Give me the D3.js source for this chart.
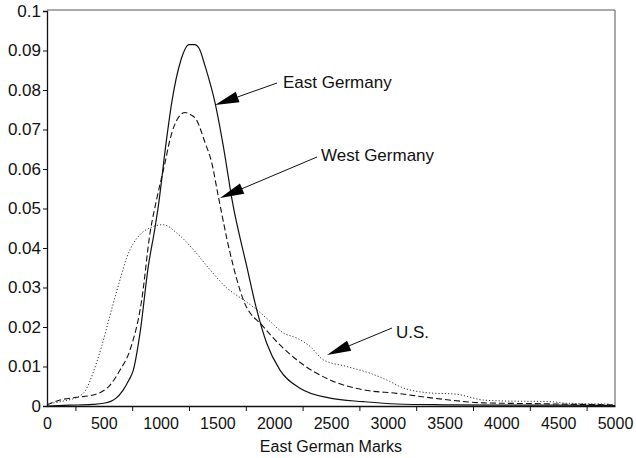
<!DOCTYPE html>
<html>
<head>
<meta charset="utf-8">
<script src="https://cdn.jsdelivr.net/npm/d3@7"></script>
<style>
  body { margin: 0; background: #fff; }
  svg { display: block; font-family: "Liberation Sans", Arial, sans-serif; }
  .axis text { font-size: 16px; fill: #111; }
  .axis path, .axis line { stroke: #111; }
</style>
</head>
<body>
<svg id="chart" width="636" height="458"></svg>
<script>
// Income densities (East German Marks)
const eastX = [0, 200, 400, 500, 555, 600, 672, 720, 760, 819, 892, 950, 980, 1050, 1098, 1177, 1250, 1300, 1340, 1391, 1479, 1552, 1634, 1758, 1846, 1934, 2051, 2227, 2491, 2784, 3078, 3500, 4000, 4500, 5000]
const eastY = [0, 0.0002, 0.0004, 0.0007, 0.0011, 0.0018, 0.0041, 0.0065, 0.0091, 0.0185, 0.0354, 0.045, 0.0506, 0.067, 0.0768, 0.0874, 0.0915, 0.0915, 0.0905, 0.0861, 0.0768, 0.0658, 0.0514, 0.0354, 0.0244, 0.0159, 0.0091, 0.0045, 0.0020, 0.0011, 0.0005, 0.0003, 0.0002, 0.0002, 0.0001]

const westX = [0, 114, 261, 408, 555, 643, 731, 834, 907, 965, 1039, 1083, 1147, 1215, 1260, 1312, 1391, 1450, 1508, 1611, 1728, 1904, 2198, 2491, 2784, 3078, 3400, 3840, 4280, 4700, 5000]
const westY = [0.0003, 0.0015, 0.0022, 0.0028, 0.0053, 0.0091, 0.0142, 0.0269, 0.0438, 0.0523, 0.0616, 0.0675, 0.0726, 0.0743, 0.0738, 0.0726, 0.0667, 0.0616, 0.0531, 0.0388, 0.0269, 0.0201, 0.0117, 0.0066, 0.0041, 0.0032, 0.0020, 0.0008, 0.0006, 0.0004, 0.0003]

const usX = [0, 150, 280, 340, 400, 480, 555, 643, 701, 819, 907, 1024, 1142, 1288, 1435, 1582, 1728, 1846, 1960, 2080, 2198, 2315, 2432, 2638, 2843, 3019, 3107, 3371, 3600, 3841, 3988, 4428, 4575, 4956]
const usY = [0.0005, 0.0013, 0.0024, 0.0040, 0.0080, 0.0150, 0.0230, 0.0320, 0.0375, 0.0434, 0.0451, 0.0459, 0.0438, 0.0396, 0.0345, 0.0299, 0.0269, 0.0244, 0.0215, 0.0185, 0.0172, 0.0151, 0.0117, 0.0100, 0.0083, 0.0062, 0.0049, 0.0033, 0.0030, 0.0015, 0.0013, 0.0011, 0.0007, 0.0005]

const xLabels = [0, 500, 1000, 1500, 2000, 2500, 3000, 3500, 4000, 4500, 5000]
const xMinor = [250, 750, 1250, 1750, 2250, 2750, 3250, 3750, 4250, 4750]
const yTicks = [0, 0.01, 0.02, 0.03, 0.04, 0.05, 0.06, 0.07, 0.08, 0.09, 0.1]

const svg = d3.select('#chart')
const margin = { left: 47, right: 21, top: 11, bottom: 52 }
const width = 636, height = 458

const x = d3.scaleLinear().domain([0, 5000]).range([margin.left, width - margin.right])
const y = d3.scaleLinear().domain([0, 0.1]).range([height - margin.bottom, margin.top])

// Frame (top and right edges)
svg.append('path')
    .attr('d', `M${x(0)},${y(0.1) - 1}H${x(5000)}V${y(0)}`)
    .attr('fill', 'none')
    .attr('stroke', '#555')
    .attr('stroke-width', 1)

// Axes
svg.append('g')
    .attr('class', 'axis')
    .attr('transform', `translate(0,${y(0)})`)
    .call(d3.axisBottom(x).tickValues(xLabels).tickSize(0).tickPadding(12).tickFormat(d3.format('d')))

svg.append('g')
    .attr('class', 'axis')
    .attr('transform', `translate(0,${y(0)})`)
    .call(d3.axisBottom(x).tickValues(xMinor).tickSize(5).tickFormat(''))
    .call(g => g.select('.domain').remove())

svg.append('g')
    .attr('class', 'axis yaxis')
    .attr('transform', `translate(${x(0)},0)`)
    .call(d3.axisLeft(y).tickValues(yTicks).tickSize(4).tickPadding(2).tickFormat(d => String(+d.toFixed(2))))

svg.selectAll('.yaxis text').style('font-size', '17px')
svg.selectAll('.axis .domain').attr('stroke-width', 1.3)

// Axis title
svg.append('text')
    .attr('x', x(2500))
    .attr('y', 452)
    .attr('text-anchor', 'middle')
    .attr('font-size', 16)
    .attr('fill', '#111')
    .text('East German Marks')

// Density curves
const line = d3.line().x(d => x(d[0])).y(d => y(d[1])).curve(d3.curveMonotoneX)

const series = [
    { xs: usX, ys: usY, dash: '1.2,2', width: 1, color: '#333' },
    { xs: westX, ys: westY, dash: '6,3', width: 1.1, color: '#111' },
    { xs: eastX, ys: eastY, dash: null, width: 1.2, color: '#111' },
]

series.forEach(s => {
    svg.append('path')
        .datum(d3.zip(s.xs, s.ys))
        .attr('d', line)
        .attr('fill', 'none')
        .attr('stroke', s.color)
        .attr('stroke-width', s.width)
        .attr('stroke-dasharray', s.dash)
})

// Labels with arrows
const labels = [
    { text: 'East Germany', tx: 283, ty: 88, from: [277, 83], to: [215, 105] },
    { text: 'West Germany', tx: 321, ty: 161, from: [317, 157], to: [220, 198] },
    { text: 'U.S.', tx: 396, ty: 338, from: [392, 328], to: [327, 355] },
]

labels.forEach(l => {
    const dx = l.to[0] - l.from[0], dy = l.to[1] - l.from[1]
    const len = Math.sqrt(dx * dx + dy * dy)
    const ux = dx / len, uy = dy / len
    const headLen = 24, headW = 5.5
    const bx = l.to[0] - ux * headLen, by = l.to[1] - uy * headLen

    svg.append('line')
        .attr('x1', l.from[0]).attr('y1', l.from[1])
        .attr('x2', bx).attr('y2', by)
        .attr('stroke', '#111')
        .attr('stroke-width', 1)

    svg.append('path')
        .attr('d', `M${l.to[0]},${l.to[1]}L${bx - uy * headW},${by + ux * headW}L${bx + uy * headW},${by - ux * headW}Z`)
        .attr('fill', '#000')

    svg.append('text')
        .attr('x', l.tx)
        .attr('y', l.ty)
        .attr('font-size', 17)
        .attr('fill', '#111')
        .text(l.text)
})
</script>
</body>
</html>
